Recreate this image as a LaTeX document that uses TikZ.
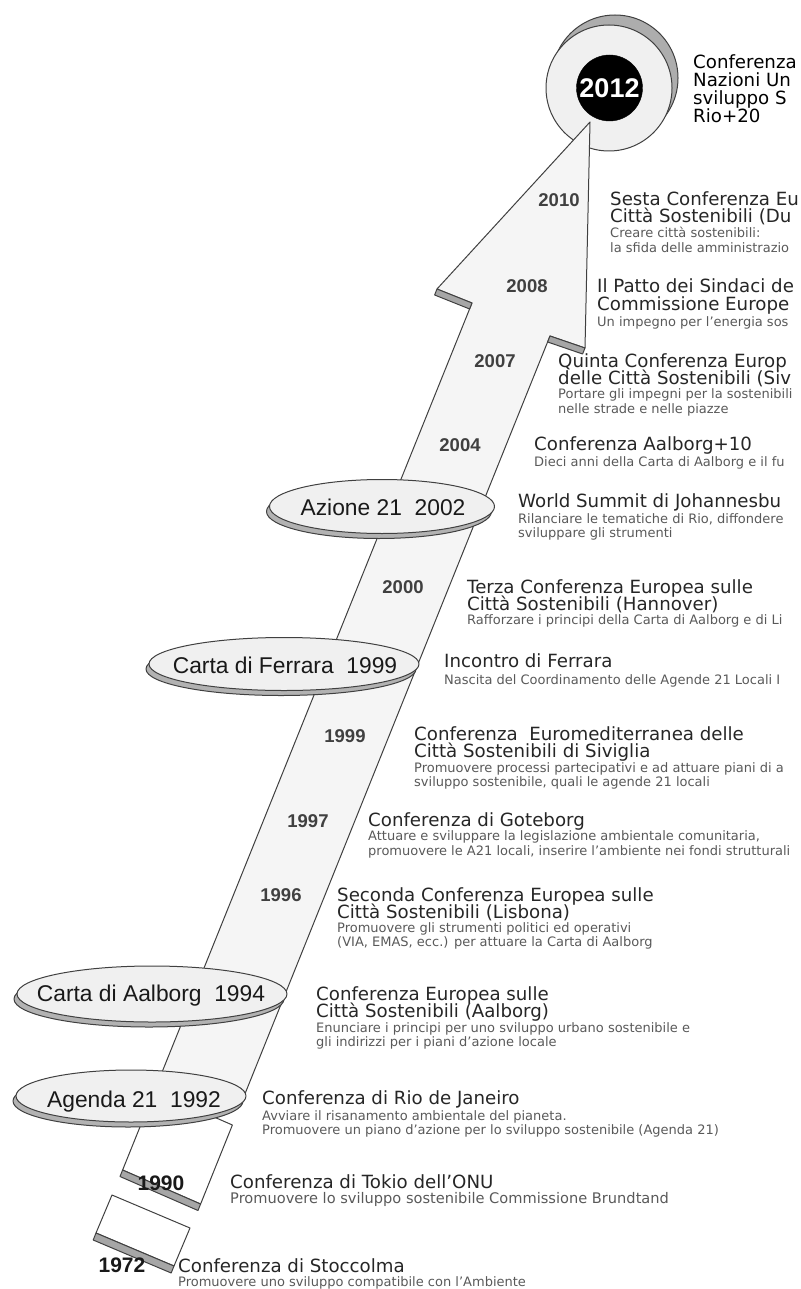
\documentclass[tikz,border=0pt]{standalone}
\usepackage{fontspec}
\setmainfont{DejaVu Sans}
\newfontfamily\arialf{Liberation Sans}
\usetikzlibrary{shapes.geometric}
\begin{document}
\begin{tikzpicture}[x=1pt,y=-1pt,
  outl/.style={draw=black!75, line width=1pt, line join=round},
  head/.style={anchor=base west, inner sep=0pt, font=\fontsize{18.2}{20}\selectfont, text=black!85},
  headk/.style={head, text=black},
  sm/.style={anchor=base west, inner sep=0pt, font=\fontsize{13}{15}\selectfont, text=black!65},
  yr/.style={anchor=base, inner sep=0pt, font=\arialf\bfseries\fontsize{18.5}{20}\selectfont, text=black!75},
  yrbig/.style={anchor=base, inner sep=0pt, font=\arialf\bfseries\fontsize{21}{22}\selectfont, text=black!90},
  ell/.style={ellipse, inner sep=0pt, outl, fill=black!6},
  ellsh/.style={ellipse, inner sep=0pt, outl, fill=black!30},
  elt/.style={inner sep=0pt, font=\arialf\fontsize{22.8}{24}\selectfont, text=black!90, text height=16.3pt, text depth=0pt},
  band/.style={outl, fill=black!35},
  circ/.style={circle, inner sep=0pt, outl}]
\useasboundingbox (0,0) rectangle (800,1289);
\clip (0,0) rectangle (800,1289);

% ---- 2012 disc (back) ----
\node[circ, fill=black!32, minimum size=126pt] (c12s) at (615,78) {};
\node[circ, fill=black!6, minimum size=126pt] (c12r) at (609,88) {};

% ---- shaft / arrow ----
\coordinate (T) at (590,122);
\coordinate (OR) at (585,348);
\coordinate (IR) at (550,336);
\coordinate (BR0) at (242.5,1100);
\coordinate (BL0) at (150.8,1100);
\coordinate (IL) at (472,303);
\coordinate (OL) at (437,289);
\draw[outl, fill=black!4] (T) -- (OR) -- (IR) -- (BR0) -- (BL0) -- (IL) -- (OL) -- cycle;
\draw[band] (OL) -- (IL) -- ++(-2.4,6) -- (434.6,295) -- cycle;
\draw[band] (IR) -- (OR) -- ++(-2.4,6) -- (547.6,342) -- cycle;

% ---- 1990 block ----
\coordinate (aTL) at (154.5,1091);
\coordinate (aTR) at (232.4,1125);
\coordinate (aBR) at (200.6,1204);
\coordinate (aBL) at (122.6,1170);
\draw[outl, fill=white] (aTL) -- (aTR) -- (aBR) -- (aBL) -- cycle;
\draw[band] (aBL) -- (aBR) -- ++(-2.6,6.5) -- (120,1176.5) -- cycle;

% ---- 1972 block ----
\coordinate (bTL) at (112,1195);
\coordinate (bTR) at (190,1228);
\coordinate (bBR) at (174,1266);
\coordinate (bBL) at (96,1233);
\draw[outl, fill=white] (bTL) -- (bTR) -- (bBR) -- (bBL) -- cycle;
\draw[band] (bBL) -- (bBR) -- ++(-2.8,7) -- (93.2,1240) -- cycle;

% ---- ellipses ----
\node[ellsh, minimum width=225pt, minimum height=54pt] (s02) at (379,511.5) {};
\node[ell, minimum width=225pt, minimum height=54pt] (e02) at (382,506.5) {};
\node[elt] (l02) at (383,506.9) {Azione 21\ \ 2002};

\node[ellsh, minimum width=270pt, minimum height=53pt] (s99) at (281,669) {};
\node[ell, minimum width=270pt, minimum height=53pt] (e99) at (284,664) {};
\node[elt] (l99) at (285,664.9) {Carta di Ferrara\ \ 1999};

\node[ellsh, minimum width=270pt, minimum height=56pt] (s94) at (149,999) {};
\node[ell, minimum width=270pt, minimum height=56pt] (e94) at (152,994) {};
\node[elt] (l94) at (151,992.9) {Carta di Aalborg\ \ 1994};

\node[ellsh, minimum width=230pt, minimum height=52pt] (s92) at (128,1101) {};
\node[ell, minimum width=230pt, minimum height=52pt] (e92) at (131,1096) {};
\node[elt] (l92) at (134,1098.9) {Agenda 21\ \ 1992};

% ---- 2012 black disc ----
\node[circle, inner sep=0pt, fill=black, draw=black, minimum size=66pt, text=white,
      font=\arialf\bfseries\fontsize{27}{28}\selectfont, text height=19.3pt, text depth=0pt] (c12) at (609.5,88) {2012};

% ---- year labels ----
\node[yr] (y10) at (559,206.5) {2010};
\node[yr] (y08) at (527,292.5) {2008};
\node[yr] (y07) at (495,367) {2007};
\node[yr] (y04) at (460,451) {2004};
\node[yr] (y00) at (403,593) {2000};
\node[yr] (y99) at (345,742) {1999};
\node[yr] (y97) at (308,827) {1997};
\node[yr] (y96) at (281,901) {1996};
\node[yrbig] (y90) at (161,1190) {1990};
\node[yrbig] (y72) at (122,1272) {1972};

% ---- texts ----
\node[headk] (r1) at (693,69) {Conferenza};
\node[headk] (r2) at (693,87) {Nazioni Un};
\node[headk] (r3) at (693,105) {sviluppo S};
\node[headk] (r4) at (693,123) {Rio+20};

\node[head] (a1) at (610,206) {Sesta Conferenza Eu};
\node[head] (a2) at (610,223) {Città Sostenibili (Du};
\node[sm] (a3) at (610,237) {Creare città sostenibili:};
\node[sm] (a4) at (610,252) {la sfida delle amministrazio};

\node[head] (b1) at (597,292) {Il Patto dei Sindaci de};
\node[head] (b2) at (597,310) {Commissione Europe};
\node[sm] (b3) at (597,326) {Un impegno per l'energia sos};

\node[head] (c1) at (558,367) {Quinta Conferenza Europ};
\node[head] (c2) at (558,384) {delle Città Sostenibili (Siv};
\node[sm] (c3) at (558,398) {Portare gli impegni per la sostenibili};
\node[sm] (c4) at (558,413) {nelle strade e nelle piazze};

\node[head] (d1) at (534,450) {Conferenza Aalborg+10};
\node[sm] (d2) at (534,466) {Dieci anni della Carta di Aalborg e il fu};

\node[head] (e1) at (518,507) {World Summit di Johannesbu};
\node[sm] (e2) at (518,523) {Rilanciare le tematiche di Rio, diffondere};
\node[sm] (e3) at (518,537) {sviluppare gli strumenti};

\node[head] (f1) at (467,593) {Terza Conferenza Europea sulle};
\node[head] (f2) at (467,610) {Città Sostenibili (Hannover)};
\node[sm] (f3) at (467,624) {Rafforzare i principi della Carta di Aalborg e di Li};

\node[head] (g1) at (444,667) {Incontro di Ferrara};
\node[sm] (g2) at (444,684) {Nascita del Coordinamento delle Agende 21 Locali I};

\node[head] (h1) at (414,740) {Conferenza\ \ Euromediterranea delle};
\node[head] (h2) at (414,757) {Città Sostenibili di Siviglia};
\node[sm] (h3) at (414,772) {Promuovere processi partecipativi e ad attuare piani di a};
\node[sm] (h4) at (414,786) {sviluppo sostenibile, quali le agende 21 locali};

\node[head] (i1) at (368,826) {Conferenza di Goteborg};
\node[sm] (i2) at (368,840) {Attuare e sviluppare la legislazione ambientale comunitaria,};
\node[sm] (i3) at (368,855) {promuovere le A21 locali, inserire l'ambiente nei fondi strutturali};

\node[head] (j1) at (337,901) {Seconda Conferenza Europea sulle};
\node[head] (j2) at (337,918) {Città Sostenibili (Lisbona)};
\node[sm] (j3) at (337,932) {Promuovere gli strumenti politici ed operativi};
\node[sm] (j4) at (337,946) {(VIA, EMAS, ecc.) per attuare la Carta di Aalborg};

\node[head] (k1) at (316,1000) {Conferenza Europea sulle};
\node[head] (k2) at (316,1017) {Città Sostenibili (Aalborg)};
\node[sm] (k3) at (316,1032) {Enunciare i principi per uno sviluppo urbano sostenibile e};
\node[sm] (k4) at (316,1046) {gli indirizzi per i piani d'azione locale};

\node[head] (m1) at (262,1104) {Conferenza di Rio de Janeiro};
\node[sm] (m2) at (262,1120) {Avviare il risanamento ambientale del pianeta.};
\node[sm] (m3) at (262,1134) {Promuovere un piano d'azione per lo sviluppo sostenibile (Agenda 21)};

\node[head] (n1) at (230,1188) {Conferenza di Tokio dell'ONU};
\node[sm, font=\fontsize{14.6}{16}\selectfont] (n2) at (230,1203) {Promuovere lo sviluppo sostenibile Commissione Brundtand};

\node[head] (o1) at (178,1272) {Conferenza di Stoccolma};
\node[sm] (o2) at (178,1286) {Promuovere uno sviluppo compatibile con l'Ambiente};
\end{tikzpicture}
\end{document}
